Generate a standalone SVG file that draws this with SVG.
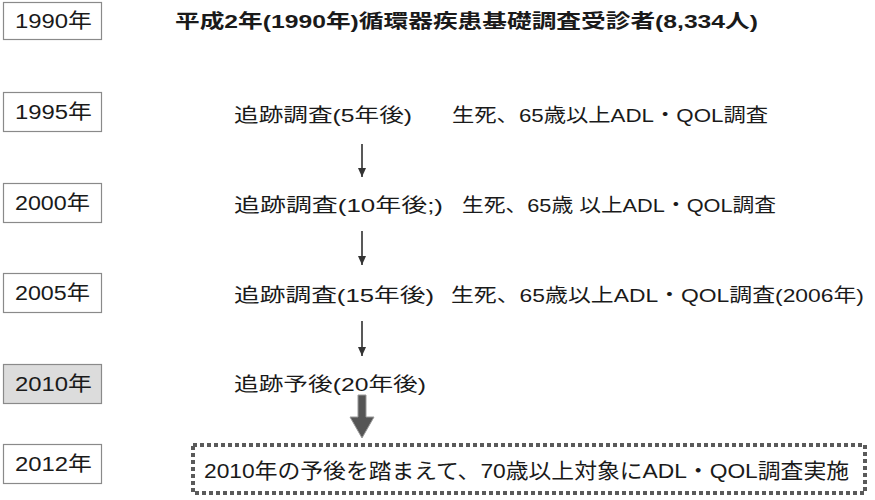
<svg xmlns="http://www.w3.org/2000/svg" width="875" height="500" viewBox="0 0 875 500">
<defs>
<style>
text{font-family:"Liberation Sans","Noto Sans CJK JP",sans-serif;fill:#1a1a1a;}
.yr{font-size:20px;}
.row{font-size:19px;}
.ttl{font-size:19px;font-weight:bold;}
.box{fill:#fff;stroke:#8a8a8a;stroke-width:1.2;}
.gray{fill:#dcdcdc;}
.conn{stroke:#222;stroke-width:1.5;fill:none;marker-end:url(#ah);}
</style>
<marker id="ah" markerWidth="9" markerHeight="8" refX="9" refY="4" orient="auto" markerUnits="userSpaceOnUse" viewBox="0 0 9 8">
<path d="M0,0 L9,4 L0,8 Z" fill="#333"/>
</marker>
</defs>
<rect width="875" height="500" fill="#fff"/>

<g id="y1990"><rect class="box" x="3.5" y="2.5" width="98" height="37"/><text class="yr" x="15" y="28" textLength="77" lengthAdjust="spacingAndGlyphs">1990年</text></g>
<g id="y1995"><rect class="box" x="3.5" y="92.5" width="98" height="39"/><text class="yr" x="15" y="119" textLength="77" lengthAdjust="spacingAndGlyphs">1995年</text></g>
<g id="y2000"><rect class="box" x="3.5" y="183.5" width="98" height="39"/><text class="yr" x="15" y="210" textLength="75" lengthAdjust="spacingAndGlyphs">2000年</text></g>
<g id="y2005"><rect class="box" x="3.5" y="273.5" width="98" height="39"/><text class="yr" x="15" y="300" textLength="75" lengthAdjust="spacingAndGlyphs">2005年</text></g>
<g id="y2010"><rect class="box gray" x="3.5" y="364.5" width="98" height="39" stroke="#8a8a8a" stroke-width="1.2"/><text class="yr" x="15" y="391" textLength="77" lengthAdjust="spacingAndGlyphs">2010年</text></g>
<g id="y2012"><rect class="box" x="3.5" y="444.5" width="98" height="39"/><text class="yr" x="15" y="471" textLength="77" lengthAdjust="spacingAndGlyphs">2012年</text></g>

<g id="n1990"><text class="ttl" x="175" y="28" textLength="583" lengthAdjust="spacingAndGlyphs">平成2年(1990年)循環器疾患基礎調査受診者(8,334人)</text></g>
<g id="n1995">
<text class="row" x="234" y="122" textLength="178" lengthAdjust="spacingAndGlyphs">追跡調査(5年後)</text>
<text class="row" x="452" y="122" textLength="316" lengthAdjust="spacingAndGlyphs">生死、65歳以上ADL・QOL調査</text>
</g>
<g id="n2000">
<text class="row" x="234" y="212" textLength="209" lengthAdjust="spacingAndGlyphs">追跡調査(10年後;)</text>
<text class="row" x="462" y="212" textLength="314" lengthAdjust="spacingAndGlyphs">生死、65歳 以上ADL・QOL調査</text>
</g>
<g id="n2005">
<text class="row" x="234" y="302" textLength="200" lengthAdjust="spacingAndGlyphs">追跡調査(15年後)</text>
<text class="row" x="451" y="302" textLength="413" lengthAdjust="spacingAndGlyphs">生死、65歳以上ADL・QOL調査(2006年)</text>
</g>
<g id="n2010">
<text class="row" x="234" y="391" textLength="192" lengthAdjust="spacingAndGlyphs">追跡予後(20年後)</text>
</g>
<g id="n2012">
<rect x="193" y="445" width="672" height="48" fill="none" stroke="#5a5a5a" stroke-width="4" stroke-dasharray="4 3"/>
<text x="204" y="478" font-size="21" textLength="645" lengthAdjust="spacingAndGlyphs">2010年の予後を踏まえて、70歳以上対象にADL・QOL調査実施</text>
</g>

<g id="connectors">
<line class="conn" x1="362" y1="144" x2="362" y2="177"/>
<line class="conn" x1="362" y1="231" x2="362" y2="265"/>
<line class="conn" x1="362" y1="321" x2="362" y2="356"/>
<path d="M358,395 L366,395 L366,417 L374,417 L362,438 L350,417 L358,417 Z" fill="#555" stroke="#999" stroke-width="1"/>
</g>
</svg>
